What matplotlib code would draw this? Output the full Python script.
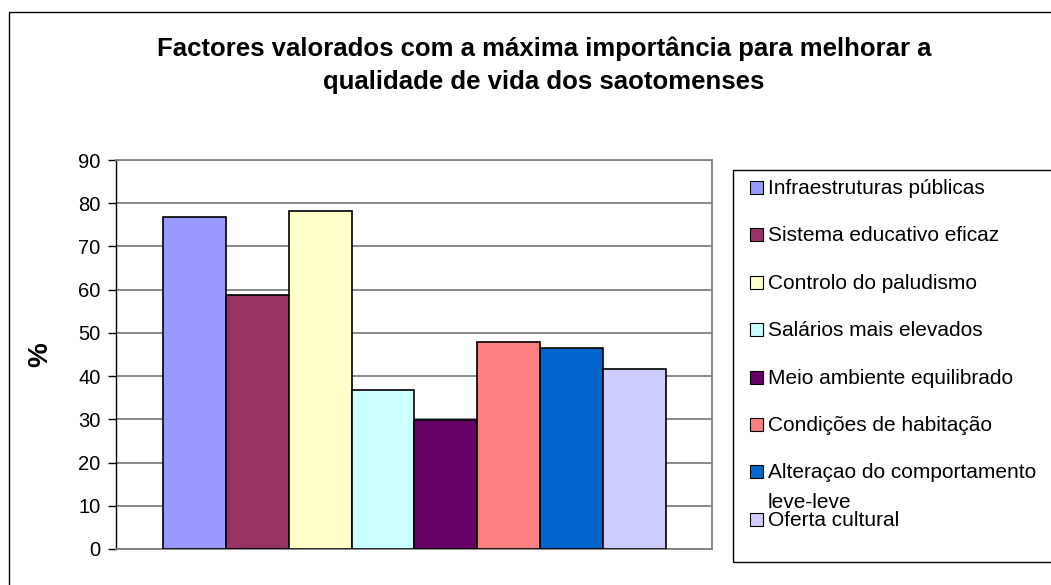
import matplotlib
matplotlib.use("Agg")
import matplotlib.pyplot as plt
import numpy as np
from matplotlib.patches import Rectangle

plt.rcParams['font.family'] = ['Liberation Sans', 'DejaVu Sans']

# Factors and share of respondents rating each as most important (%)
factors = [
    "Infraestruturas públicas",
    "Sistema educativo eficaz",
    "Controlo do paludismo",
    "Salários mais elevados",
    "Meio ambiente equilibrado",
    "Condições de habitação",
    "Alteraçao do comportamento\nleve-leve",
    "Oferta cultural",
]
values = [76.8, 58.7, 78.3, 36.7, 29.9, 48.0, 46.4, 41.7]
colors = ["#9999FF", "#993366", "#FFFFCC", "#CCFFFF",
          "#660066", "#FF8080", "#0066CC", "#CCCCFF"]
yticks = list(range(0, 91, 10))

title = ("Factores valorados com a máxima importância para melhorar a\n"
         "qualidade de vida dos saotomenses")

W, H = 1051, 585
fig = plt.figure(figsize=(W / 100, H / 100), dpi=100)


def fx(px):
    return px / W


def fy(py):
    return 1 - py / H


# Outer chart frame (runs off the right and bottom edges)
fig.add_artist(Rectangle((fx(9), fy(600)), fx(1100 - 9), fy(12) - fy(600),
                         transform=fig.transFigure, fill=False,
                         edgecolor="black", linewidth=1.0))

ax = fig.add_axes([fx(116), fy(549), fx(712 - 116), fy(160) - fy(549)])
x = np.arange(len(values))
ax.bar(x, values, width=1.0, align="edge", color=colors,
       edgecolor="black", linewidth=1.2, zorder=3)
ax.set_xlim(-0.75, len(values) + 0.74)
ax.set_ylim(0, 90)
ax.set_yticks(yticks)
ax.set_yticklabels([str(t) for t in yticks], fontsize=14.5)
ax.set_xticks([])
ax.yaxis.grid(True, color="#808080", linewidth=1.3, zorder=0)
ax.set_axisbelow(True)
for side in ("top", "right", "bottom"):
    ax.spines[side].set_color("#808080")
    ax.spines[side].set_linewidth(1.3)
ax.spines["left"].set_color("black")
ax.spines["left"].set_linewidth(1.0)
ax.tick_params(axis="y", direction="out", length=6, width=1.0, pad=5)

fig.text(fx(40), fy(355), "%", rotation=90, fontsize=20, fontweight="bold",
         ha="center", va="center")

fig.text(fx(544), fy(65), title, ha="center", va="center", fontsize=18.5,
         fontweight="bold", linespacing=1.45)

# Legend box with swatches and labels
fig.add_artist(Rectangle((fx(733), fy(562)), fx(1100 - 733), fy(170) - fy(562),
                         transform=fig.transFigure, fill=False,
                         edgecolor="black", linewidth=1.0))
step = 47.4
line_gap = 30
for i, (lab, col) in enumerate(zip(factors, colors)):
    cy = 187 + i * step
    fig.add_artist(Rectangle((fx(750), fy(cy + 7)), fx(13), fy(cy - 6) - fy(cy + 7),
                             transform=fig.transFigure, facecolor=col,
                             edgecolor="black", linewidth=0.8))
    for k, part in enumerate(lab.split("\n")):
        fig.text(fx(768), fy(cy + 7 + k * line_gap), part, ha="left",
                 va="baseline", fontsize=15)

fig.savefig("out.png", dpi=100)
